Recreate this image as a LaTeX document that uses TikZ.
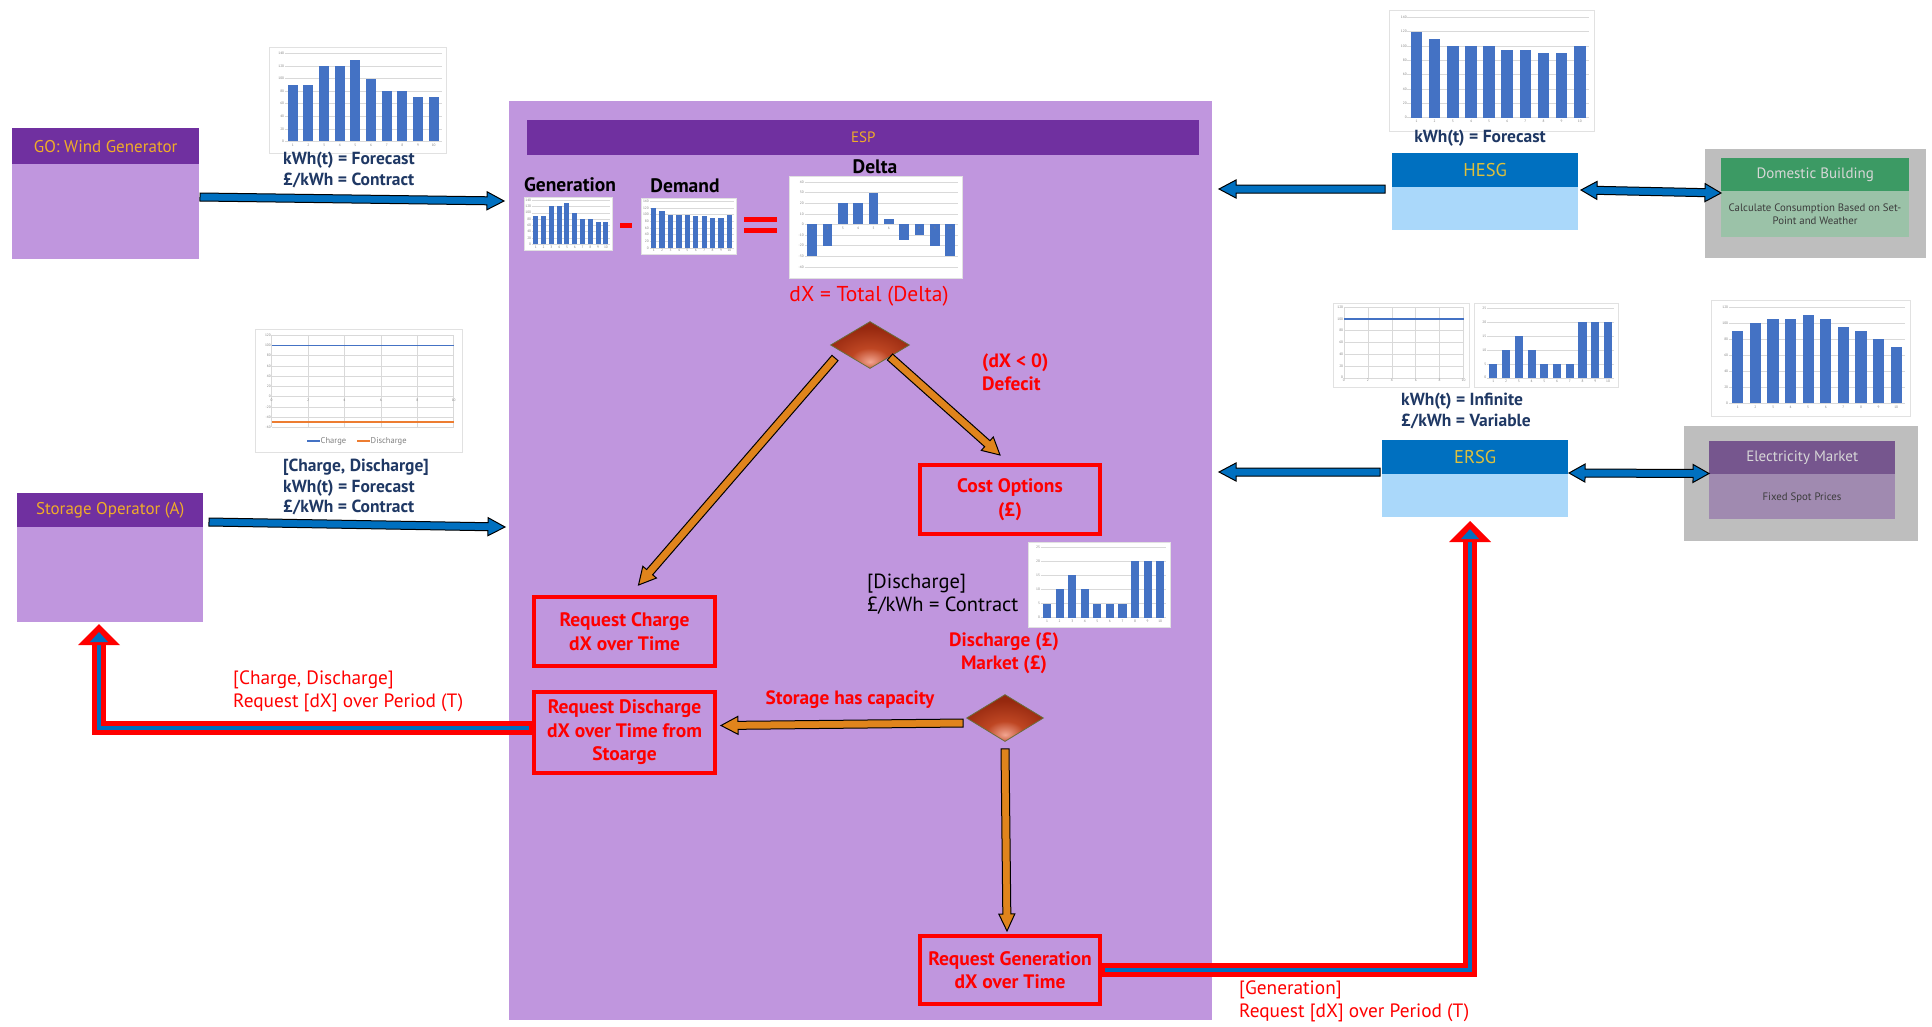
\documentclass[tikz,border=0pt]{standalone}
\usepackage{fontspec}
\setmainfont{PT Sans}
\usetikzlibrary{calc,shapes.geometric}

\definecolor{hdrpurple}{RGB}{112,48,160}
\definecolor{lpurple}{RGB}{192,150,222}
\definecolor{gold}{RGB}{240,172,40}
\definecolor{hesgblue}{RGB}{0,112,192}
\definecolor{hesglight}{RGB}{170,216,250}
\definecolor{hesgtext}{RGB}{222,192,60}
\definecolor{navy}{RGB}{31,56,100}
\definecolor{arrowblue}{RGB}{0,112,192}
\definecolor{arroworange}{RGB}{224,132,28}
\definecolor{greybg}{RGB}{190,190,190}
\definecolor{domgreen}{RGB}{60,154,100}
\definecolor{domlight}{RGB}{155,194,168}
\definecolor{emhdr}{RGB}{118,86,142}
\definecolor{emlight}{RGB}{160,138,176}
\definecolor{lighttext}{RGB}{215,215,215}
\definecolor{bodytext}{RGB}{60,60,60}
\definecolor{barblue}{RGB}{68,114,196}
\definecolor{lineorange}{RGB}{237,125,49}
\definecolor{gridc}{RGB}{217,217,217}
\definecolor{chartedge}{RGB}{225,225,225}
\definecolor{dlight}{RGB}{242,165,145}
\definecolor{dmid}{RGB}{190,70,35}
\definecolor{ddark}{RGB}{150,40,15}
\definecolor{dedge}{RGB}{105,110,60}
\definecolor{redc}{RGB}{255,0,0}

\pgfdeclareradialshading{diamshade}{\pgfpoint{0bp}{-18bp}}{color(0bp)=(dlight); color(12bp)=(dmid); color(30bp)=(ddark); color(80bp)=(ddark)}

\tikzset{
 boxbody/.style={rectangle, anchor=north west, inner sep=0pt, outer sep=0pt},
 hdr/.style={rectangle, anchor=north west, inner sep=0pt, fill=hdrpurple, text=gold, font=\fontsize{17}{19}\selectfont},
 navylab/.style={align=left, text=navy, inner sep=0pt, font=\bfseries\fontsize{17.5}{20.5}\selectfont},
 redlab/.style={text=redc, inner sep=0pt, font=\bfseries\fontsize{19.3}{22.5}\selectfont},
 redreq/.style={text=redc, align=left, inner sep=0pt, font=\fontsize{19.3}{23}\selectfont},
 redbox/.style={draw=redc, line width=4pt, rectangle, anchor=north west, inner sep=0pt, text=redc, align=center, font=\bfseries\fontsize{19.5}{23.5}\selectfont},
 blacklab/.style={text=black, inner sep=0pt, font=\bfseries\fontsize{19.5}{21}\selectfont},
 bluearr/.style={fill=arrowblue, draw=black, line width=1pt},
 orangearr/.style={fill=arroworange, draw=black, line width=1pt},
 redline/.style={draw=redc, line width=14pt, line join=miter},
 coreline/.style={draw=arrowblue, line width=4pt, line join=miter},
 decision/.style={diamond, minimum width=79pt, minimum height=47pt, inner sep=0pt, shade, shading=diamshade, draw=dedge, line width=0.8pt},
 ticklab/.style={font=\fontsize{3.5}{4}\selectfont, text=gray, inner sep=0.6pt},
}

% fat arrow: #1 from, #2 to, #3 half shaft, #4 half head, #5 head length, #6 style
\newcommand\fatarrow[6]{%
 \coordinate (faq) at ($(#2)!#5!(#1)$);
 \path[#6] ($(#1)!#3!90:(#2)$) -- ($(faq)!#3!90:(#2)$) -- ($(faq)!#4!90:(#2)$) -- (#2)
   -- ($(faq)!#4!-90:(#2)$) -- ($(faq)!#3!-90:(#2)$) -- ($(#1)!#3!-90:(#2)$) -- cycle;}
\newcommand\dblarrow[6]{%
 \coordinate (faq) at ($(#2)!#5!(#1)$);
 \coordinate (fap) at ($(#1)!#5!(#2)$);
 \path[#6] (#1) -- ($(fap)!#4!90:(#2)$) -- ($(fap)!#3!90:(#2)$) -- ($(faq)!#3!90:(#2)$) -- ($(faq)!#4!90:(#2)$) -- (#2)
   -- ($(faq)!#4!-90:(#2)$) -- ($(faq)!#3!-90:(#2)$) -- ($(fap)!#3!-90:(#2)$) -- ($(fap)!#4!-90:(#2)$) -- cycle;}

% bar chart: left, top, width, height, ymin, ymax, step, values
\newcommand\barchart[8]{%
\begin{scope}[shift={(#1,#2)}]
\pgfmathsetmacro\bcW{#3}%
\pgfmathsetmacro\bcH{#4}%
\pgfmathsetmacro\bcXa{0.09*\bcW}%
\pgfmathsetmacro\bcXb{0.975*\bcW}%
\pgfmathsetmacro\bcYa{0.06*\bcH}%
\pgfmathsetmacro\bcYb{0.89*\bcH}%
\pgfmathsetmacro\bcS{(\bcYb-\bcYa)/((#6)-(#5))}%
\pgfmathtruncatemacro\bcN{(#5)+(#7)}%
\fill[white] (0,0) rectangle (\bcW,\bcH);
\draw[chartedge,line width=0.5pt] (0,0) rectangle (\bcW,\bcH);
\foreach \g in {#5,\bcN,...,#6}{%
 \pgfmathsetmacro\gy{\bcYb-(\g-(#5))*\bcS}%
 \draw[gridc,line width=0.5pt] (\bcXa,\gy) -- (\bcXb,\gy);
 \node[ticklab,anchor=east] at (\bcXa,\gy) {\g};
}
\pgfmathsetmacro\bcSl{(\bcXb-\bcXa)/10}%
\pgfmathsetmacro\bcZ{\bcYb-(0-(#5))*\bcS}%
\foreach \v [count=\i] in {#8}{%
 \pgfmathsetmacro\bx{\bcXa+(\i-0.5)*\bcSl}%
 \pgfmathsetmacro\vy{\bcYb-(\v-(#5))*\bcS}%
 \fill[barblue] ({\bx-0.32*\bcSl},\bcZ) rectangle ({\bx+0.32*\bcSl},\vy);
 \node[ticklab,anchor=north] at (\bx,{\bcZ+0.015*\bcH}) {\i};
}
\end{scope}}

% line chart: left, top, width, height, ymin, ymax, step, bottom fraction, lines value/colour
\newcommand\linechart[9]{%
\begin{scope}[shift={(#1,#2)}]
\pgfmathsetmacro\bcW{#3}%
\pgfmathsetmacro\bcH{#4}%
\pgfmathsetmacro\bcXa{0.08*\bcW}%
\pgfmathsetmacro\bcXb{0.96*\bcW}%
\pgfmathsetmacro\bcYa{0.05*\bcH}%
\pgfmathsetmacro\bcYb{#8*\bcH}%
\pgfmathsetmacro\bcS{(\bcYb-\bcYa)/((#6)-(#5))}%
\pgfmathtruncatemacro\bcN{(#5)+(#7)}%
\fill[white] (0,0) rectangle (\bcW,\bcH);
\draw[chartedge,line width=0.5pt] (0,0) rectangle (\bcW,\bcH);
\foreach \g in {#5,\bcN,...,#6}{%
 \pgfmathsetmacro\gy{\bcYb-(\g-(#5))*\bcS}%
 \draw[gridc,line width=0.5pt] (\bcXa,\gy) -- (\bcXb,\gy);
 \node[ticklab,anchor=east] at (\bcXa,\gy) {\g};
}
\pgfmathsetmacro\bcZ{\bcYb-(0-(#5))*\bcS}%
\foreach \k in {0,2,...,10}{%
 \pgfmathsetmacro\gx{\bcXa+\k/10*(\bcXb-\bcXa)}%
 \draw[gridc,line width=0.5pt] (\gx,\bcYa) -- (\gx,\bcYb);
 \node[ticklab,anchor=north] at (\gx,{\bcZ+0.01*\bcH}) {\k};
}
\foreach \lv/\lc in {#9}{%
 \pgfmathsetmacro\ly{\bcYb-(\lv-(#5))*\bcS}%
 \draw[\lc,line width=1.8pt] (\bcXa,\ly) -- (\bcXb,\ly);
}
\end{scope}}

\begin{document}
\begin{tikzpicture}[x=1pt,y=-1pt]
\useasboundingbox (0,0) rectangle (1932,1026);
\fill[white] (0,0) rectangle (1932,1026);

% ---------------- ESP ----------------
\node[boxbody, fill=lpurple, minimum width=703pt, minimum height=919pt] (esp) at (509,101) {};
\node[hdr, minimum width=672pt, minimum height=35pt, font=\fontsize{15}{17}\selectfont] (esph) at (527,120) {ESP};

\node[blacklab] (genlab) at (570,185) {Generation};
\barchart{524}{197}{88}{53}{0}{140}{20}{90,90,120,120,130,100,80,80,70,70}
\fill[redc] (620,223) rectangle (632,228);
\node[blacklab] (demlab) at (685,186) {Demand};
\barchart{641}{198}{95}{56}{0}{140}{20}{120,110,100,100,100,95,95,90,90,100}
\fill[redc] (744,217) rectangle (777,222);
\fill[redc] (744,228) rectangle (777,233);
\node[blacklab] (dellab) at (875,167) {Delta};
\barchart{789}{176}{173}{102}{-40}{40}{10}{-30,-20,20,20,30,5,-15,-10,-20,-30}
\node[text=redc, inner sep=0pt, font=\fontsize{21.5}{23}\selectfont] (dxlab) at (869,296) {dX = Total (Delta)};

\node[decision] (d1) at (870,345) {};
\node[redlab, align=left, anchor=west] (deflab) at (982,372) {(dX < 0)\\Defecit};
\node[redbox, minimum width=180pt, minimum height=69pt] (cost) at (918,463) {Cost Options\\(£)};
\node[text=black, inner sep=0pt, align=left, anchor=west, font=\fontsize{20.5}{23.5}\selectfont] (dislab) at (867,594) {[Discharge]\\£/kWh = Contract};
\barchart{1028}{542}{142}{85}{0}{25}{5}{5,10,15,10,5,5,5,20,20,20}
\node[redlab, align=center] (mktlab) at (1004,653) {Discharge (£)\\Market (£)};

\node[redbox, minimum width=181pt, minimum height=69pt] (rc) at (532,595) {Request Charge\\dX over Time};
\node[redbox, minimum width=181pt, minimum height=81pt] (rd) at (532,690) {Request Discharge\\dX over Time from\\Stoarge};
\node[redlab] (caplab) at (850,700) {Storage has capacity};
\node[decision, minimum width=77pt] (d2) at (1005,718) {};
\node[redbox, minimum width=180pt, minimum height=68pt] (rg) at (918,934) {Request Generation\\dX over Time};

% orange arrows
\coordinate (o1a) at ($(d1)+(-35,13)$);
\coordinate (o1b) at ($(rc.north)+(14,-10)$);
\fatarrow{o1a}{o1b}{4pt}{9pt}{17pt}{orangearr}
\coordinate (o2a) at ($(d1)+(20,12)$);
\coordinate (o2b) at ($(cost.north)+(-10,-8)$);
\fatarrow{o2a}{o2b}{4pt}{9pt}{17pt}{orangearr}
\coordinate (o3a) at ($(d2.west)+(-3,5)$);
\coordinate (o3b) at ($(rd.east)+(4,-7)$);
\fatarrow{o3a}{o3b}{4pt}{9pt}{17pt}{orangearr}
\coordinate (o4a) at ($(d2.south)+(0,7)$);
\coordinate (o4b) at ($(rg.north)+(-3,-3)$);
\fatarrow{o4a}{o4b}{4pt}{8pt}{17pt}{orangearr}

% ---------------- GO ----------------
\node[boxbody, fill=lpurple, minimum width=187pt, minimum height=131pt] (go) at (12,128) {};
\node[hdr, minimum width=187pt, minimum height=36pt] (goh) at (12,128) {GO: Wind Generator};
\barchart{269}{47}{177}{106}{0}{140}{20}{90,90,120,120,130,100,80,80,70,70}
\node[navylab, anchor=west] (golab) at (283,170) {kWh(t) = Forecast\\£/kWh = Contract};
\coordinate (ga) at ($(go.east)+(1,3.5)$);
\coordinate (gb) at ($(esp.west |- ga)+(-5,4)$);
\fatarrow{ga}{gb}{4pt}{9pt}{17pt}{bluearr}

% ---------------- Storage operator ----------------
\node[boxbody, fill=lpurple, minimum width=186pt, minimum height=129pt] (so) at (17,493) {};
\node[hdr, minimum width=186pt, minimum height=34pt] (soh) at (17,493) {Storage Operator (A)};
\linechart{255}{329}{207}{123}{-60}{120}{20}{0.80}{100/barblue,-50/lineorange}
\draw[barblue, line width=1.8pt] (307,441) -- (320,441);
\node[anchor=west, inner sep=0.5pt, text=gray, font=\fontsize{8.5}{9}\selectfont] (lgc) at (320,441) {Charge};
\draw[lineorange, line width=1.8pt] (357,441) -- (370,441);
\node[anchor=west, inner sep=0.5pt, text=gray, font=\fontsize{8.5}{9}\selectfont] (lgd) at (370,441) {Discharge};
\node[navylab, anchor=west] (solab) at (283,487) {[Charge, Discharge]\\kWh(t) = Forecast\\£/kWh = Contract};
\coordinate (sa) at ($(so.north east)+(6,29)$);
\coordinate (sb) at ($(esp.west |- sa)+(-4,5)$);
\fatarrow{sa}{sb}{4pt}{9pt}{17pt}{bluearr}

% ---------------- HESG ----------------
\barchart{1389}{10}{205}{121}{0}{140}{20}{120,110,100,100,100,95,95,90,90,100}
\node[navylab] (hesglab) at (1480,138) {kWh(t) = Forecast};
\node[boxbody, fill=hesglight, minimum width=186pt, minimum height=77pt] (hesg) at (1392,153) {};
\node[hdr, fill=hesgblue, text=hesgtext, minimum width=186pt, minimum height=34pt, font=\fontsize{18.5}{20}\selectfont] (hesgh) at (1392,153) {HESG};
\coordinate (ha) at ($(hesg.west)+(-7,-2.5)$);
\coordinate (hb) at ($(esp.east |- ha)+(7,0)$);
\fatarrow{ha}{hb}{4pt}{9pt}{17pt}{bluearr}

% ---------------- Domestic building ----------------
\node[boxbody, fill=greybg, minimum width=221pt, minimum height=109pt] (domout) at (1705,149) {};
\node[boxbody, fill=domlight, minimum width=188pt, minimum height=79pt] (dom) at (1721,158) {};
\node[hdr, fill=domgreen, text=lighttext, minimum width=188pt, minimum height=33pt, font=\fontsize{15}{17}\selectfont] (domh) at (1721,158) {Domestic Building};
\node[text=bodytext, align=center, inner sep=0pt, font=\fontsize{10.8}{13.5}\selectfont] (domtxt) at (1815,214) {Calculate Consumption Based on Set-\\Point and Weather};
\coordinate (hda) at ($(hesg.east)+(3,-1.5)$);
\coordinate (hdb) at ($(dom.west)+(0,-4.5)$);
\dblarrow{hda}{hdb}{4pt}{9pt}{16pt}{bluearr}

% ---------------- ERSG ----------------
\linechart{1333}{303}{136}{84}{0}{120}{20}{0.89}{100/barblue}
\barchart{1474}{303}{144}{84}{0}{25}{5}{5,10,15,10,5,5,5,20,20,20}
\node[navylab, anchor=west] (ersglab) at (1401,411) {kWh(t) = Infinite\\£/kWh = Variable};
\node[boxbody, fill=hesglight, minimum width=186pt, minimum height=77pt] (ersg) at (1382,440) {};
\node[hdr, fill=hesgblue, text=hesgtext, minimum width=186pt, minimum height=34pt, font=\fontsize{18.5}{20}\selectfont] (ersgh) at (1382,440) {ERSG};
\coordinate (ea) at ($(ersg.west)+(-2,-6.5)$);
\coordinate (eb) at ($(esp.east |- ea)+(7,0)$);
\fatarrow{ea}{eb}{4pt}{9pt}{17pt}{bluearr}

% ---------------- Electricity market ----------------
\barchart{1711}{300}{199}{116}{0}{120}{20}{90,100,105,105,110,105,95,90,80,70}
\node[boxbody, fill=greybg, minimum width=234pt, minimum height=115pt] (emout) at (1684,426) {};
\node[boxbody, fill=emlight, minimum width=186pt, minimum height=78pt] (em) at (1709,441) {};
\node[hdr, fill=emhdr, text=lighttext, minimum width=186pt, minimum height=33pt, font=\fontsize{15}{17}\selectfont] (emh) at (1709,441) {Electricity Market};
\node[text=bodytext, inner sep=0pt, font=\fontsize{10.8}{12}\selectfont] (emtxt) at (1802,498) {Fixed Spot Prices};
\coordinate (ema) at ($(ersg.east)+(1,-5.5)$);
\coordinate (emb) at ($(em.west)+(0,-6.5)$);
\dblarrow{ema}{emb}{4pt}{9pt}{16pt}{bluearr}

% ---------------- red request paths ----------------
\coordinate (et) at ($(ersg.south)+(-5,4)$);
\draw[redline] (rg.east) -| ($(et)+(0,20)$);
\draw[coreline] ($(rg.east)+(3,0)$) -| ($(et)+(0,17)$);
\fill[redc] (et) -- ++(-21,21) -- ++(42,0) -- cycle;
\fill[arrowblue] ($(et)+(0,8)$) -- ++(-9,10) -- ++(18,0) -- cycle;
\node[redreq, anchor=west] (reqgen) at (1239,1001) {[Generation]\\Request [dX] over Period (T)};

\coordinate (st) at ($(so.south)+(-11,2)$);
\coordinate (rs) at ($(rd.west)+(0,-5)$);
\draw[redline] (rs) -| ($(st)+(0,20)$);
\draw[coreline] ($(rs)+(-3,0)$) -| ($(st)+(0,17)$);
\fill[redc] (st) -- ++(-21,21) -- ++(42,0) -- cycle;
\fill[arrowblue] ($(st)+(0,8)$) -- ++(-9,10) -- ++(18,0) -- cycle;
\node[redreq, anchor=west] (reqso) at (233,691) {[Charge, Discharge]\\Request [dX] over Period (T)};

\end{tikzpicture}
\end{document}
